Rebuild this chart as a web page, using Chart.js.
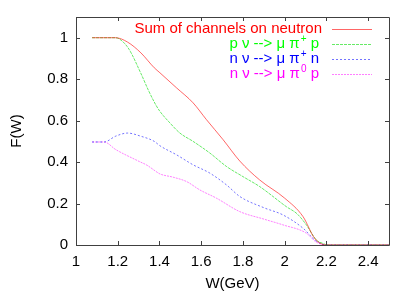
<!DOCTYPE html>
<html><head><meta charset="utf-8">
<script src="https://cdn.jsdelivr.net/npm/chart.js@4"></script>
<style>html,body{margin:0;padding:0;background:#fff}#wrap{width:415px;height:291px}</style>
</head><body><div id="wrap"><canvas id="c" width="415" height="291"></canvas></div>
<script>
const xTicks = [1, 1.2, 1.4, 1.6, 1.8, 2, 2.2, 2.4];
const yTicks = [0, 0.2, 0.4, 0.6, 0.8, 1];
const xTitle = 'W(GeV)';
const yTitle = 'F(W)';

const wSum = [1.077, 1.19, 1.247, 1.311, 1.375, 1.402, 1.482, 1.561, 1.625, 1.705, 1.785, 1.88, 2.0, 2.088, 2.144, 2.2, 2.5];
const fSum = [1.0, 1.0, 0.979, 0.927, 0.855, 0.831, 0.758, 0.686, 0.605, 0.508, 0.405, 0.314, 0.226, 0.137, 0.032, 0.0, 0.0];

const wPip = [1.077, 1.19, 1.22, 1.255, 1.31, 1.35, 1.383, 1.402, 1.45, 1.498, 1.561, 1.641, 1.721, 1.80, 1.88, 2.008, 2.06, 2.104, 2.152, 2.19, 2.2, 2.5];
const fPip = [1.0, 1.0, 0.985, 0.943, 0.83, 0.74, 0.675, 0.645, 0.589, 0.54, 0.50, 0.444, 0.379, 0.330, 0.282, 0.185, 0.15, 0.097, 0.024, 0.005, 0.0, 0.0];

const wPin = [1.077, 1.135, 1.19, 1.247, 1.31, 1.375, 1.402, 1.482, 1.561, 1.641, 1.721, 1.785, 1.9, 1.992, 2.088, 2.15, 2.2, 2.5];
const fPin = [0.497, 0.497, 0.525, 0.540, 0.525, 0.50, 0.479, 0.435, 0.387, 0.347, 0.29, 0.234, 0.18, 0.145, 0.081, 0.02, 0.0, 0.0];

const wPi0 = [1.077, 1.135, 1.191, 1.303, 1.34, 1.383, 1.402, 1.466, 1.53, 1.593, 1.673, 1.785, 1.9, 1.992, 2.104, 2.15, 2.2, 2.5];
const fPi0 = [0.497, 0.497, 0.46, 0.403, 0.385, 0.355, 0.343, 0.327, 0.306, 0.266, 0.226, 0.161, 0.125, 0.097, 0.057, 0.015, 0.0, 0.0];

const legendMain = ['Sum of channels on neutron', 'p \u03bd --> \u03bc \u03c0', 'n \u03bd --> \u03bc \u03c0', 'n \u03bd --> \u03bc \u03c0'];
const legendSup = ['', '+', '+', '0'];
const legendTail = ['', ' p', ' n', ' p'];

function pts(w, f) { return w.map((x, i) => ({x: x, y: f[i]})); }

const FONT = '"Liberation Sans", Arial, sans-serif';
const FS = 15;
const colors = ['#ff0000', '#00ff00', '#0000ff', '#ff00ff'];
const lineColors = ['rgba(255,0,0,0.6)', 'rgba(0,220,0,0.6)', 'rgba(0,0,255,0.55)', 'rgba(255,0,255,0.5)'];
const dashes = [[], [3, 1], [2, 2], [2, 1]];

const frame = {
  id: 'frame',
  afterDraw(chart) {
    const ctx = chart.ctx, a = chart.chartArea;
    const xs = chart.scales.x, ys = chart.scales.y;
    ctx.save();
    ctx.strokeStyle = '#404040';
    ctx.lineWidth = 1;
    ctx.beginPath();
    ctx.rect(Math.round(a.left) + 0.5, Math.round(a.top) + 0.5, Math.round(a.right - a.left), Math.round(a.bottom - a.top));
    ctx.stroke();
    ctx.beginPath();
    xTicks.forEach(v => {
      const px = Math.round(xs.getPixelForValue(v)) + 0.5;
      ctx.moveTo(px, a.bottom); ctx.lineTo(px, a.bottom - 4);
      ctx.moveTo(px, a.top); ctx.lineTo(px, a.top + 4);
    });
    yTicks.forEach(v => {
      const py = Math.round(ys.getPixelForValue(v)) + 0.5;
      ctx.moveTo(a.left, py); ctx.lineTo(a.left + 4, py);
      ctx.moveTo(a.right, py); ctx.lineTo(a.right - 4, py);
    });
    ctx.stroke();
    // legend
    const rightX = [322, 318, 318, 318];
    const rowY = [29, 44, 59, 74];
    for (let i = 0; i < 4; i++) {
      ctx.font = FS + 'px ' + FONT;
      const wMain = ctx.measureText(legendMain[i]).width;
      const wTail = ctx.measureText(legendTail[i]).width;
      ctx.font = '10px ' + FONT;
      const wSup = ctx.measureText(legendSup[i]).width;
      let x = rightX[i] - wMain - wSup - wTail;
      ctx.fillStyle = colors[i];
      ctx.textBaseline = 'middle';
      ctx.textAlign = 'left';
      ctx.font = FS + 'px ' + FONT;
      ctx.fillText(legendMain[i], x, rowY[i]);
      x += wMain;
      if (legendSup[i]) {
        ctx.font = '10px ' + FONT;
        ctx.fillText(legendSup[i], x + 1, rowY[i] - 5);
        x += wSup + 1;
      }
      ctx.font = FS + 'px ' + FONT;
      ctx.fillText(legendTail[i], x, rowY[i]);
      ctx.strokeStyle = lineColors[i];
      ctx.setLineDash(dashes[i]);
      ctx.beginPath();
      ctx.moveTo(332, rowY[i] + 0.5); ctx.lineTo(372, rowY[i] + 0.5);
      ctx.stroke();
      ctx.setLineDash([]);
    }
    ctx.restore();
  }
};

const series = [[wSum, fSum], [wPip, fPip], [wPin, fPin], [wPi0, fPi0]];

new Chart(document.getElementById('c'), {
  type: 'line',
  data: {
    datasets: series.map((s, i) => ({
      label: legendMain[i] + legendSup[i] + legendTail[i],
      data: pts(s[0], s[1]),
      borderColor: lineColors[i],
      borderWidth: 1,
      borderDash: dashes[i],
      pointRadius: 0,
      cubicInterpolationMode: 'monotone',
      fill: false
    }))
  },
  options: {
    responsive: false,
    animation: false,
    events: [],
    layout: { padding: { left: 0, right: 26, top: 17, bottom: 0 } },
    plugins: { legend: { display: false }, tooltip: { enabled: false } },
    scales: {
      x: {
        type: 'linear', min: 1, max: 2.5,
        afterFit(s) { s.height = 46; },
        afterBuildTicks(s) { s.ticks = xTicks.map(v => ({value: v})); },
        grid: { display: false, drawTicks: false },
        border: { display: false },
        ticks: { color: '#000', font: { family: FONT, size: FS }, padding: 8, maxRotation: 0, autoSkip: false,
                 callback: v => String(Math.round(v * 10) / 10) },
        title: { display: true, text: xTitle, color: '#000', font: { family: FONT, size: FS, lineHeight: 1 }, padding: { top: 0, bottom: 0 } }
      },
      y: {
        min: 0, max: 1.1,
        afterFit(s) { s.width = 76; },
        afterBuildTicks(s) { s.ticks = yTicks.map(v => ({value: v})); },
        grid: { display: false, drawTicks: false },
        border: { display: false },
        ticks: { color: '#000', font: { family: FONT, size: FS }, padding: 8, autoSkip: false,
                 callback: v => String(Math.round(v * 10) / 10) },
        title: { display: true, text: yTitle, color: '#000', font: { family: FONT, size: FS, lineHeight: 1 }, padding: { top: 9, bottom: 0 } }
      }
    }
  },
  plugins: [frame]
});
</script>
</body></html>
